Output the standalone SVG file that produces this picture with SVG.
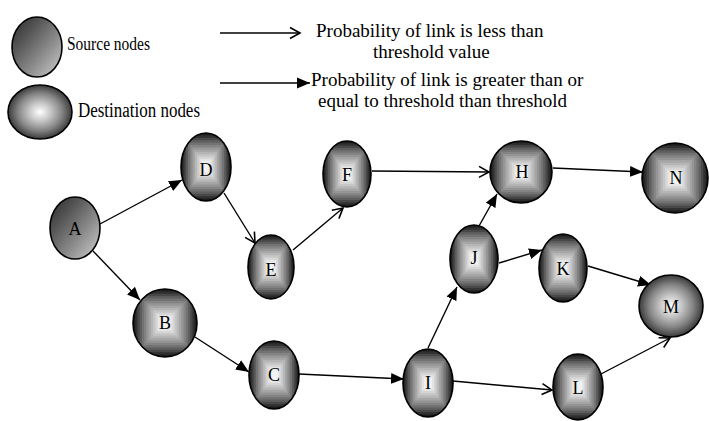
<svg xmlns="http://www.w3.org/2000/svg" xmlns:xlink="http://www.w3.org/1999/xlink" width="709" height="421" viewBox="0 0 709 421" font-family="'Liberation Serif', 'Times New Roman', Tinos, 'DejaVu Serif', serif">
<style>
text{font-family:'Liberation Serif','Times New Roman',Tinos,'DejaVu Serif',serif;fill:#000}
.lbl{font-size:18px;text-anchor:middle}
.leg{font-size:19px}
.nd{fill:none;stroke:#000;stroke-width:1.6}
.e{fill:none;stroke:#000;stroke-width:1.4}
.f{marker-end:url(#mf)}
.o{marker-end:url(#mo)}
</style>
<defs>
<marker id="mf" markerUnits="userSpaceOnUse" markerWidth="14" markerHeight="12" refX="13" refY="6" orient="auto">
<path d="M0,0.5 L13,6 L0,11.5 z" fill="#000"/>
</marker>
<marker id="mo" markerUnits="userSpaceOnUse" markerWidth="14" markerHeight="14" refX="12" refY="7" orient="auto">
<path d="M2,1.5 L12,7 L2,12.5" fill="none" stroke="#000" stroke-width="1.6"/>
</marker>
<linearGradient id="src" x1="0" y1="0" x2="1" y2="1">
<stop offset="0" stop-color="#2a2a2a"/>
<stop offset="0.3" stop-color="#555"/>
<stop offset="0.6" stop-color="#888"/>
<stop offset="1" stop-color="#d0d0d0"/>
</linearGradient>
<radialGradient id="dst" cx="0.5" cy="0.5" r="0.5">
<stop offset="0" stop-color="#ffffff"/>
<stop offset="0.35" stop-color="#c4c4c4"/>
<stop offset="0.7" stop-color="#828282"/>
<stop offset="1" stop-color="#3a3a3a"/>
</radialGradient>
<clipPath id="uc" clipPathUnits="userSpaceOnUse"><circle cx="0" cy="0" r="1"/></clipPath>
<g id="sqg">
<rect x="-1" y="-1" width="2" height="2" fill="#1c1c1c"/>
<rect x="-0.93" y="-0.93" width="1.86" height="1.86" fill="#303030"/>
<rect x="-0.86" y="-0.86" width="1.72" height="1.72" fill="#484848"/>
<rect x="-0.79" y="-0.79" width="1.58" height="1.58" fill="#5e5e5e"/>
<rect x="-0.72" y="-0.72" width="1.44" height="1.44" fill="#727272"/>
<rect x="-0.65" y="-0.65" width="1.3" height="1.3" fill="#848484"/>
<rect x="-0.58" y="-0.58" width="1.16" height="1.16" fill="#959595"/>
<rect x="-0.51" y="-0.51" width="1.02" height="1.02" fill="#a6a6a6"/>
<rect x="-0.44" y="-0.44" width="0.88" height="0.88" fill="#b6b6b6"/>
<rect x="-0.37" y="-0.37" width="0.74" height="0.74" fill="#c6c6c6"/>
<rect x="-0.3" y="-0.3" width="0.6" height="0.6" fill="#d6d6d6"/>
<rect x="-0.23" y="-0.23" width="0.46" height="0.46" fill="#e6e6e6"/>
<rect x="-0.16" y="-0.16" width="0.32" height="0.32" fill="#f2f2f2"/>
</g>
</defs>
<rect width="709" height="421" fill="#fff"/>

<g id="legend">
<ellipse cx="37" cy="47" rx="25" ry="30" fill="url(#src)" stroke="#000" stroke-width="1.6"/>
<text x="67" y="50" font-size="18" textLength="83" lengthAdjust="spacingAndGlyphs">Source nodes</text>
<ellipse cx="40" cy="112" rx="32" ry="27" fill="url(#dst)" stroke="#000" stroke-width="1.6"/>
<text x="78" y="117" font-size="20" textLength="122" lengthAdjust="spacingAndGlyphs">Destination nodes</text>
<line class="e o" x1="220" y1="33" x2="300" y2="33"/>
<line class="e f" x1="220" y1="83" x2="310" y2="83"/>
<text class="leg" x="316" y="37">Probability of link is less than</text>
<text class="leg" x="373" y="58">threshold value</text>
<text class="leg" x="311" y="86">Probability of link is greater than or</text>
<text class="leg" x="318" y="107">equal to threshold than threshold</text>
</g>

<g id="connectors">
<line class="e f" x1="100" y1="224" x2="182" y2="180"/>
<line class="e f" x1="93" y1="251" x2="140" y2="300"/>
<line class="e o" x1="224" y1="193" x2="255" y2="243"/>
<line class="e o" x1="293" y1="250" x2="343" y2="208"/>
<line class="e o" x1="372" y1="171" x2="489" y2="172"/>
<line class="e f" x1="553" y1="168" x2="643" y2="172"/>
<line class="e f" x1="479" y1="226" x2="497" y2="194"/>
<line class="e f" x1="499" y1="263" x2="542" y2="250"/>
<line class="e f" x1="588" y1="266" x2="651" y2="285"/>
<line class="e f" x1="195" y1="337" x2="249" y2="372"/>
<line class="e f" x1="299" y1="374" x2="404" y2="379"/>
<line class="e f" x1="428" y1="348" x2="457" y2="287"/>
<line class="e o" x1="453" y1="381" x2="552" y2="390"/>
<line class="e o" x1="601" y1="374" x2="670" y2="338"/>
</g>

<g id="node-A">
<ellipse cx="75" cy="228" rx="25" ry="31" fill="url(#src)" stroke="#000" stroke-width="1.6"/>
<text class="lbl" x="75" y="235">A</text>
</g>
<g id="node-D">
<g transform="translate(206,167) scale(25,34)"><use xlink:href="#sqg" clip-path="url(#uc)"/></g>
<ellipse class="nd" cx="206" cy="167" rx="25" ry="34"/>
<text class="lbl" x="206" y="176">D</text>
</g>
<g id="node-E">
<g transform="translate(271,267) scale(23,32)"><use xlink:href="#sqg" clip-path="url(#uc)"/></g>
<ellipse class="nd" cx="271" cy="267" rx="23" ry="32"/>
<text class="lbl" x="271" y="276">E</text>
</g>
<g id="node-F">
<g transform="translate(347,174) scale(24,33)"><use xlink:href="#sqg" clip-path="url(#uc)"/></g>
<ellipse class="nd" cx="347" cy="174" rx="24" ry="33"/>
<text class="lbl" x="347" y="181">F</text>
</g>
<g id="node-H">
<g transform="translate(521,172) scale(31,31)"><use xlink:href="#sqg" clip-path="url(#uc)"/></g>
<ellipse class="nd" cx="521" cy="172" rx="31" ry="31"/>
<text class="lbl" x="522" y="178">H</text>
</g>
<g id="node-N">
<g transform="translate(675,178) scale(33,35)"><use xlink:href="#sqg" clip-path="url(#uc)"/></g>
<ellipse class="nd" cx="675" cy="178" rx="33" ry="35"/>
<text class="lbl" x="676" y="184">N</text>
</g>
<g id="node-B">
<g transform="translate(165,323) scale(32,34)"><use xlink:href="#sqg" clip-path="url(#uc)"/></g>
<ellipse class="nd" cx="165" cy="323" rx="32" ry="34"/>
<text class="lbl" x="165" y="329">B</text>
</g>
<g id="node-C">
<g transform="translate(274,375) scale(25,34)"><use xlink:href="#sqg" clip-path="url(#uc)"/></g>
<ellipse class="nd" cx="274" cy="375" rx="25" ry="34"/>
<text class="lbl" x="274" y="381">C</text>
</g>
<g id="node-I">
<g transform="translate(428,383) scale(25,34)"><use xlink:href="#sqg" clip-path="url(#uc)"/></g>
<ellipse class="nd" cx="428" cy="383" rx="25" ry="34"/>
<text class="lbl" x="428" y="389">I</text>
</g>
<g id="node-J">
<g transform="translate(474,259) scale(24,34)"><use xlink:href="#sqg" clip-path="url(#uc)"/></g>
<ellipse class="nd" cx="474" cy="259" rx="24" ry="34"/>
<text class="lbl" x="474" y="264">J</text>
</g>
<g id="node-K">
<g transform="translate(563,268) scale(24,34)"><use xlink:href="#sqg" clip-path="url(#uc)"/></g>
<ellipse class="nd" cx="563" cy="268" rx="24" ry="34"/>
<text class="lbl" x="563" y="275">K</text>
</g>
<g id="node-L">
<g transform="translate(578,387) scale(25,33)"><use xlink:href="#sqg" clip-path="url(#uc)"/></g>
<ellipse class="nd" cx="578" cy="387" rx="25" ry="33"/>
<text class="lbl" x="578" y="394">L</text>
</g>
<g id="node-M">
<ellipse cx="671" cy="306" rx="32" ry="31" fill="url(#dst)" stroke="#000" stroke-width="1.6"/>
<text class="lbl" x="671" y="313">M</text>
</g>
</svg>
